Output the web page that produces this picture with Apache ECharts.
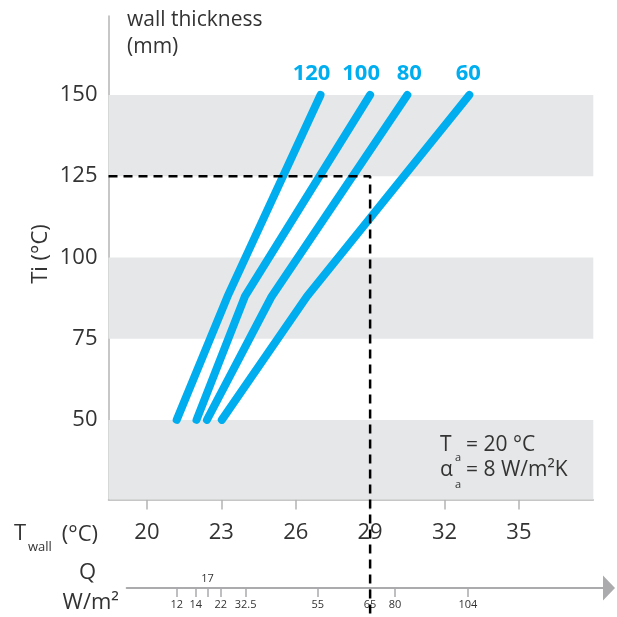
<!DOCTYPE html>
<html>
<head>
<meta charset="utf-8">
<script src="https://cdn.jsdelivr.net/npm/echarts@6/dist/echarts.min.js"></script>
<style>
html, body { margin: 0; padding: 0; background: #fff; }
#chart { width: 617px; height: 617px; }
</style>
</head>
<body>
<div id="chart"></div>
<script>
// wall thickness curves (mm), Ti (°C) against Twall (°C)
const thicknesses = ['120', '100', '80', '60']
const tiPoints = [50, 88, 150]
const twall120 = [21.2, 23.25, 27.0]
const twall100 = [22.0, 23.95, 29.0]
const twall80 = [22.42, 25.03, 30.5]
const twall60 = [23.02, 26.45, 33.0]
const twallCurves = [twall120, twall100, twall80, twall60]

// reading example: Ti 125 -> Twall 29
const readTi = 125
const readTwall = 29

// axis ticks
const twallTicks = [20, 23, 26, 29, 32, 35]
const tiLabels = [50, 75, 100, 125, 150]
const bandRanges = [[25, 50], [75, 100], [125, 150]]

// heat flux Q (W/m²) shown at the matching Twall
const qLabels = ['12', '14', '17', '22', '32.5', '55', '65', '80', '104']
const qAtTwall = [21.2, 21.97, 22.44, 22.98, 23.98, 26.89, 29.0, 30.0, 32.94]
const qLabelsAbove = ['17']

const FONT = "'Open Sans', Lato, sans-serif"
const COLORS = {
  line: '#00AEEF',
  band: '#E6E7E8',
  axis: '#B4B4B4',
  qAxis: '#ABABAE',
  text: '#333333',
  dash: '#000000',
}

const X_MIN = 18.45, X_MAX = 38
const Y_MIN = 25.5, Y_MAX = 174.3
const GRID = { left: 108.5, right: 23.7, top: 16, bottom: 117.5 }
const pxPerUnit = (617 - GRID.left - GRID.right) / (X_MAX - X_MIN)
const Q_LEFT = 126.7, Q_RIGHT_PX = 603
const qMin = X_MIN + (Q_LEFT - GRID.left) / pxPerUnit
const qMax = X_MIN + (Q_RIGHT_PX - GRID.left) / pxPerUnit

function qLabelFor(v) {
  let best = 0
  qAtTwall.forEach((t, i) => { if (Math.abs(t - v) < Math.abs(qAtTwall[best] - v)) best = i })
  return qLabels[best]
}

const labelOffsets = [[-9, 0], [-9, 0], [2, 0], [-1, 0]]

const curveSeries = thicknesses.map((name, i) => ({
  type: 'line',
  name,
  xAxisIndex: 0,
  yAxisIndex: 0,
  symbol: 'circle',
  symbolSize: 1,
  z: 3,
  itemStyle: { color: COLORS.line },
  lineStyle: { color: COLORS.line, width: 8, cap: 'round', join: 'round' },
  emphasis: { disabled: true },
  data: twallCurves[i].map((x, j) => {
    const item = { value: [x, tiPoints[j]] }
    if (j === tiPoints.length - 1) {
      item.label = {
        show: true,
        position: 'top',
        distance: 10,
        offset: labelOffsets[i],
        formatter: name,
        fontFamily: FONT,
        fontWeight: 'bold',
        fontSize: 22,
        color: COLORS.line,
      }
    }
    return item
  }),
}))

curveSeries[0].markArea = {
  silent: true,
  itemStyle: { color: COLORS.band },
  data: bandRanges.map(([a, b]) => [{ yAxis: Math.max(a, Y_MIN) }, { yAxis: b }]),
}

function txt(x, y, text, size, extra) {
  return {
    type: 'text', x, y, z: 10,
    style: Object.assign({ text, fontFamily: FONT, fontSize: size, fill: COLORS.text, verticalAlign: 'middle' }, extra || {}),
  }
}

const chart = echarts.init(document.getElementById('chart'))

chart.setOption({
  animation: false,
  grid: [
    { left: GRID.left, right: GRID.right, top: GRID.top, bottom: GRID.bottom },
    { left: Q_LEFT, right: 617 - Q_RIGHT_PX, top: 587, height: 1 },
  ],
  xAxis: [
    {
      type: 'value',
      gridIndex: 0,
      min: X_MIN,
      max: X_MAX,
      axisLine: { show: true, lineStyle: { color: COLORS.axis, width: 1.5 } },
      axisTick: { show: true, customValues: twallTicks, length: 10, lineStyle: { color: COLORS.axis, width: 1.5 } },
      axisLabel: { customValues: twallTicks, fontFamily: FONT, fontSize: 22, color: COLORS.text, margin: 22 },
      splitLine: { show: false },
    },
    {
      type: 'value',
      gridIndex: 1,
      position: 'bottom',
      min: qMin,
      max: qMax,
      axisLine: {
        show: true,
        symbol: ['none', 'triangle'],
        symbolSize: [25, 12],
        symbolOffset: [0, 6],
        lineStyle: { color: COLORS.qAxis, width: 2 },
      },
      axisTick: { show: true, customValues: qAtTwall, length: 9, lineStyle: { color: COLORS.qAxis, width: 1.5 } },
      axisLabel: {
        customValues: qAtTwall.filter((t, i) => !qLabelsAbove.includes(qLabels[i])),
        formatter: v => qLabelFor(v),
        fontFamily: FONT, fontSize: 11, color: COLORS.text, margin: 11,
      },
      splitLine: { show: false },
    },
    {
      type: 'value',
      gridIndex: 1,
      position: 'top',
      min: qMin,
      max: qMax,
      axisLine: { show: false },
      axisTick: { show: false },
      axisLabel: {
        customValues: qAtTwall.filter((t, i) => qLabelsAbove.includes(qLabels[i])),
        formatter: v => qLabelFor(v),
        fontFamily: FONT, fontSize: 11, color: COLORS.text, margin: 3,
      },
      splitLine: { show: false },
    },
  ],
  yAxis: [
    {
      type: 'value',
      gridIndex: 0,
      min: Y_MIN,
      max: Y_MAX,
      axisLine: { show: true, lineStyle: { color: COLORS.axis, width: 1.5 } },
      axisTick: { show: false },
      axisLabel: { customValues: tiLabels, fontFamily: FONT, fontSize: 22, color: COLORS.text, margin: 11 },
      splitLine: { show: false },
    },
    { type: 'value', gridIndex: 1, show: false },
  ],
  series: [
    ...curveSeries,
    {
      type: 'line',
      name: 'reading',
      xAxisIndex: 0,
      yAxisIndex: 0,
      symbol: 'none',
      clip: false,
      z: 5,
      lineStyle: { color: COLORS.dash, width: 2.5, type: [9, 6] },
      emphasis: { disabled: true },
      data: [[X_MIN, readTi], [readTwall, readTi], [readTwall, -11]],
    },
  ],
  graphic: [
    txt(127, 20, 'wall thickness', 21),
    txt(127, 47, '(mm)', 21),
    txt(41, 254, 'Ti (°C)', 22, { align: 'center' }),
    txt(14, 534, 'T', 22),
    txt(28, 547, 'wall', 13),
    txt(98, 535, '(°C)', 22, { align: 'right' }),
    txt(96, 573, 'Q', 22, { align: 'right' }),
    txt(119, 603, 'W/m²', 22, { align: 'right' }),
    txt(440, 445, 'T', 21),
    txt(455, 458, 'a', 11),
    txt(466, 445, '= 20 °C', 21),
    txt(440, 470, 'α', 21),
    txt(455, 485, 'a', 11),
    txt(466, 470, '= 8 W/m²K', 21),
  ].map((g, i) => (i === 2 ? Object.assign(g, { rotation: Math.PI / 2 }) : g)),
})
</script>
</body>
</html>
